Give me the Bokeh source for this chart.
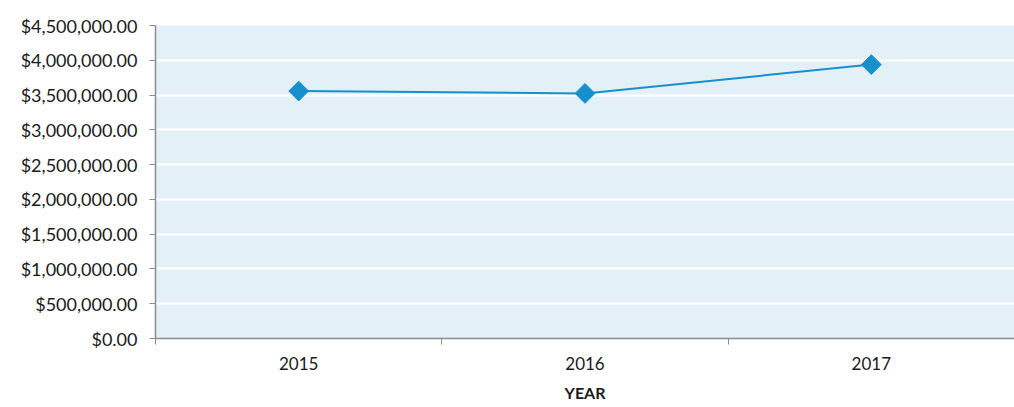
import numpy as np
from bokeh.plotting import figure
from bokeh.models import Range1d, FixedTicker, NumeralTickFormatter, ColumnDataSource
from bokeh.embed import file_html
from bokeh.resources import INLINE

years = ["2015", "2016", "2017"]
totals = [3557000, 3524000, 3938000]
y_ticks = [0, 500000, 1000000, 1500000, 2000000, 2500000, 3000000, 3500000, 4000000, 4500000]

FONT = "Lato"
BLUE = "#1690cc"
TXT = "#1a1a1a"

idx = np.arange(len(years))
xs = idx + 0.5
src = ColumnDataSource(dict(x=xs, y=totals, year=years))

p = figure(width=1014, height=404, output_backend="svg", toolbar_location=None,
           x_range=Range1d(0, len(years)), y_range=Range1d(0, 4500000),
           min_border_left=155, min_border_right=0, min_border_top=25, min_border_bottom=64)
p.background_fill_color = "#e4f0f7"
p.border_fill_color = "white"
p.outline_line_color = None

p.line("x", "y", source=src, line_color=BLUE, line_width=2)
p.scatter("x", "y", source=src, marker="square", angle=np.pi / 4, size=14,
          fill_color=BLUE, line_color=BLUE)

# x axis
p.xaxis.ticker = FixedTicker(ticks=list(xs), minor_ticks=list(np.arange(len(years) + 1)))
p.xaxis.major_label_overrides = {float(x): y for x, y in zip(xs, years)}
p.xaxis.major_tick_line_color = None
p.xaxis.minor_tick_line_color = "#8c8c8c"
p.xaxis.minor_tick_out = 6
p.xaxis.minor_tick_in = 0
p.xaxis.axis_line_color = "#8c8c8c"
p.xaxis.axis_line_width = 1.5
p.xaxis.major_label_standoff = 12
p.xaxis.major_label_text_font = FONT
p.xaxis.major_label_text_font_size = "17px"
p.xaxis.major_label_text_color = TXT
p.xaxis.axis_label = "YEAR"
p.xaxis.axis_label_text_font = FONT
p.xaxis.axis_label_text_font_size = "16px"
p.xaxis.axis_label_text_font_style = "bold"
p.xaxis.axis_label_text_color = TXT
p.xaxis.axis_label_standoff = 10

# y axis
p.yaxis.ticker = FixedTicker(ticks=y_ticks, minor_ticks=[])
p.yaxis.formatter = NumeralTickFormatter(format="$0,0.00")
p.yaxis.major_tick_line_color = "#8c8c8c"
p.yaxis.major_tick_out = 6
p.yaxis.major_tick_in = 0
p.yaxis.axis_line_color = "#8c8c8c"
p.yaxis.axis_line_width = 1.5
p.yaxis.major_label_standoff = 12
p.yaxis.major_label_text_font = FONT
p.yaxis.major_label_text_font_size = "18px"
p.yaxis.major_label_text_color = TXT

p.xgrid.grid_line_color = None
p.ygrid.grid_line_color = "white"
p.ygrid.grid_line_width = 2

open("out.html", "w").write(file_html(p, INLINE))
